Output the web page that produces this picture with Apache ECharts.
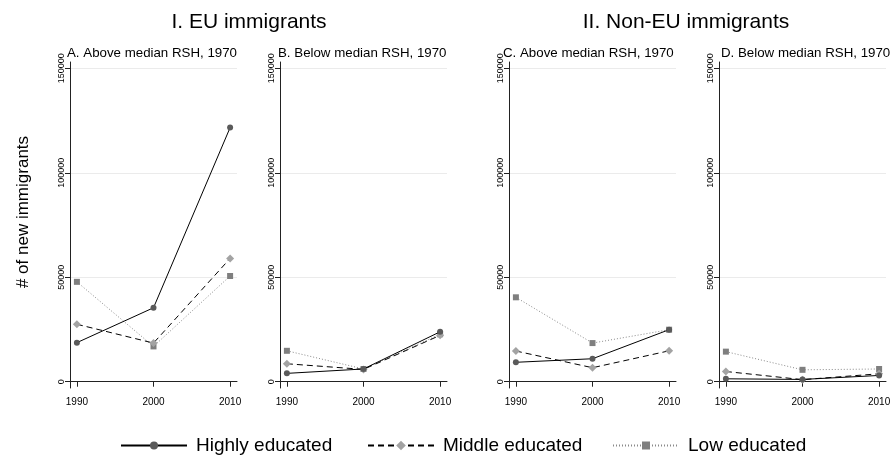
<!DOCTYPE html>
<html>
<head>
<meta charset="utf-8">
<script src="https://cdn.jsdelivr.net/npm/echarts@6/dist/echarts.min.js"></script>
<style>
  html, body { margin: 0; padding: 0; background: #fff; }
  #chart { width: 895px; height: 456px; }
</style>
</head>
<body>
<div id="chart"></div>
<script>
// Census years on the horizontal axis
const years = [1990, 2000, 2010];
const yTicks = [0, 50000, 100000, 150000];

// Number of new immigrants by education group
// I. EU immigrants
const euAboveHigh = [18700, 35400, 121600];
const euAboveMiddle = [27500, 18500, 59000];
const euAboveLow = [47800, 16900, 50600];
const euBelowHigh = [4000, 6100, 23900];
const euBelowMiddle = [8600, 5900, 22200];
const euBelowLow = [14800, 6100, 22700];
// II. Non-EU immigrants
const nonEuAboveHigh = [9300, 11000, 24900];
const nonEuAboveMiddle = [14700, 6700, 14800];
const nonEuAboveLow = [40400, 18500, 24900];
const nonEuBelowHigh = [1400, 1100, 3000];
const nonEuBelowMiddle = [4900, 1000, 3800];
const nonEuBelowLow = [14400, 5700, 6100];

const groupTitles = ['I. EU immigrants', 'II. Non-EU immigrants'];
const panelTitles = ['A. Above median RSH, 1970', 'B. Below median RSH, 1970',
                     'C. Above median RSH, 1970', 'D. Below median RSH, 1970'];
const seriesNames = ['Highly educated', 'Middle educated', 'Low educated'];
const yTitle = '# of new immigrants';

const panels = [
  [euAboveHigh, euAboveMiddle, euAboveLow],
  [euBelowHigh, euBelowMiddle, euBelowLow],
  [nonEuAboveHigh, nonEuAboveMiddle, nonEuAboveLow],
  [nonEuBelowHigh, nonEuBelowMiddle, nonEuBelowLow]
];

const FONT = 'Liberation Sans, Arial, Helvetica, sans-serif';
const panelLeft = [70, 280, 509, 719];
const panelTitleLeft = [67, 278, 503, 721];
const panelWidth = 167;

const styles = [
  { symbol: 'circle', symbolSize: 6, color: '#5a5a5a',
    line: { color: '#000', width: 1, type: 'solid' } },
  { symbol: 'diamond', symbolSize: 8, color: '#a3a3a3',
    line: { color: '#000', width: 1, type: [6, 4] } },
  { symbol: 'rect', symbolSize: 6, color: '#7f7f7f',
    line: { color: '#8a8a8a', width: 1, type: [1, 2] } }
];

const grids = [], xAxes = [], yAxes = [], series = [];
panels.forEach((panel, i) => {
  grids.push({ left: panelLeft[i], width: panelWidth, top: 62, height: 326 });
  xAxes.push({
    type: 'value', gridIndex: i, min: 1989.1, max: 2010.9,
    axisLine: { show: true, lineStyle: { color: '#222', width: 1 } },
    axisTick: { show: true, customValues: years, length: 5, lineStyle: { color: '#222' } },
    axisLabel: { customValues: years, color: '#000', fontSize: 10, fontFamily: FONT, margin: 9,
                 formatter: v => String(v) },
    splitLine: { show: false }
  });
  yAxes.push({
    type: 'value', gridIndex: i, min: -3000, max: 153000,
    axisLine: { show: true, lineStyle: { color: '#222', width: 1 } },
    axisTick: { show: true, customValues: yTicks, length: 5, lineStyle: { color: '#222' } },
    axisLabel: { customValues: yTicks, rotate: 90, color: '#000', fontSize: 9, fontFamily: FONT,
                 margin: 4, formatter: v => String(v) },
    splitLine: { show: true, lineStyle: { color: '#ebebeb', width: 1 } }
  });
  panel.forEach((vals, k) => {
    const s = styles[k];
    series.push({
      type: 'line', name: seriesNames[k], xAxisIndex: i, yAxisIndex: i,
      data: years.map((y, j) => [y, vals[j]]),
      symbol: s.symbol, symbolSize: s.symbolSize,
      itemStyle: { color: s.color, borderWidth: 0 },
      lineStyle: s.line, z: 3 - k, animation: false
    });
  });
});

// One legend per key so each can sit at its own place on the bottom row
const legendLeft = [115, 362, 607];
const legends = seriesNames.map((name, k) => ({
  left: legendLeft[k], bottom: -4, itemWidth: 66, itemHeight: k === 1 ? 12 : 10,
  selectedMode: false, data: [name],
  textStyle: { color: '#000', fontSize: 19, fontFamily: FONT, padding: [0, 0, 0, 4] }
}));

const option = {
  backgroundColor: '#fff',
  animation: false,
  title: [
    { text: groupTitles[0], left: 244, top: 7, textAlign: 'center',
      textStyle: { fontSize: 21, fontWeight: 'normal', color: '#000', fontFamily: FONT } },
    { text: groupTitles[1], left: 681, top: 7, textAlign: 'center',
      textStyle: { fontSize: 21, fontWeight: 'normal', color: '#000', fontFamily: FONT } }
  ].concat(panelTitles.map((t, i) => ({
    text: t, left: panelTitleLeft[i], top: 47, padding: 0,
    textStyle: { fontSize: 13.3, fontWeight: 'normal', color: '#000', fontFamily: FONT }
  }))),
  legend: legends,
  graphic: [{
    type: 'text', x: 23, y: 212, rotation: Math.PI / 2,
    style: { text: yTitle, fill: '#000', fontSize: 17, fontFamily: FONT,
             align: 'center', verticalAlign: 'middle' }
  }],
  grid: grids,
  xAxis: xAxes,
  yAxis: yAxes,
  series: series
};

const chart = echarts.init(document.getElementById('chart'), null, { renderer: 'canvas' });
chart.setOption(option);
</script>
</body>
</html>
